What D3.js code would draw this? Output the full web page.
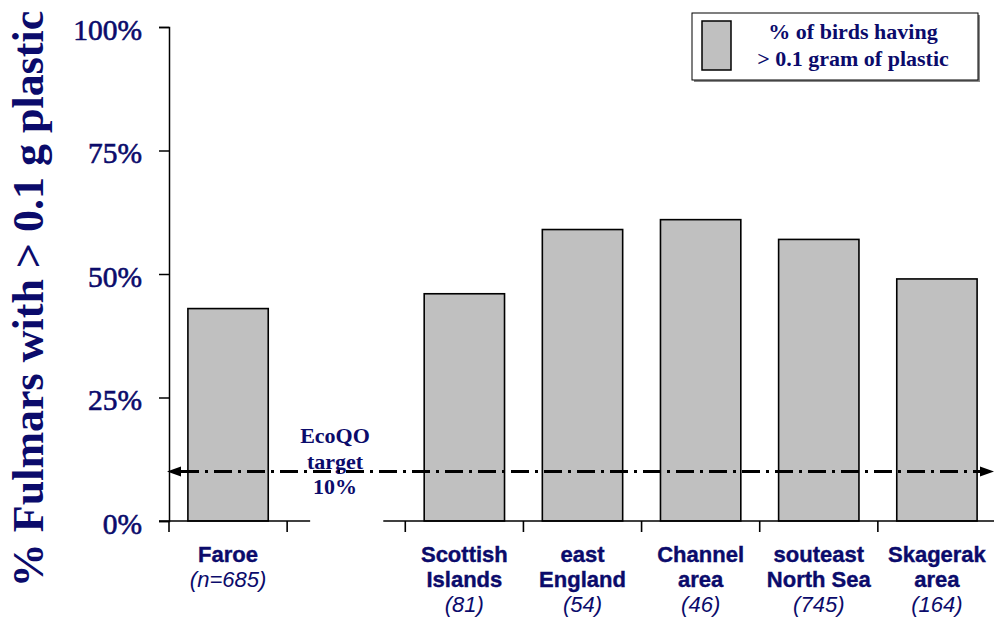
<!DOCTYPE html>
<html>
<head>
<meta charset="utf-8">
<script src="https://cdn.jsdelivr.net/npm/d3@7"></script>
<style>
  html, body { margin: 0; padding: 0; background: #fff; }
  svg { display: block; }
</style>
</head>
<body>
<svg id="chart" width="994" height="622"></svg>
<script>
// Regions (an empty slot separates the Faroe from the North Sea regions)
const regions = ["Faroe", "", "Scottish Islands", "east England", "Channel area", "souteast North Sea", "Skagerak area"];
const labelLines = [["Faroe"], [], ["Scottish", "Islands"], ["east", "England"], ["Channel", "area"], ["souteast", "North Sea"], ["Skagerak", "area"]];
const sampleSizes = ["(n=685)", "", "(81)", "(54)", "(46)", "(745)", "(164)"];
// Share of fulmars with more than 0.1 g of plastic
const shares = [0.43, null, 0.46, 0.59, 0.61, 0.57, 0.49];
const yTicks = [0, 0.25, 0.5, 0.75, 1];
const target = 0.10;
const targetLabel = ["EcoQO", "target", "10%"];
const legendLines = ["% of birds having", "> 0.1 gram of plastic"];
const yTitle = "% Fulmars with > 0.1 g plastic";

const navy = "#0b0b6b";
const serif = "'Liberation Serif', 'Times New Roman', serif";
const sans = "'Liberation Sans', Arial, sans-serif";
const svg = d3.select("#chart");
const W = 994;

const x = d3.scaleBand().domain(regions).range([169, 996]).padding(0);
const y = d3.scaleLinear().domain([0, 1]).range([521, 27]);
const step = x.step();
const x0 = x.range()[0];

// Bars
const barW = x.bandwidth() * 0.68;
svg.append("g").selectAll("rect")
  .data(regions.map((r, i) => ({ r, v: shares[i] })).filter(d => d.v != null))
  .join("rect")
  .attr("x", d => x(d.r) + (x.bandwidth() - barW) / 2)
  .attr("y", d => y(d.v))
  .attr("width", barW)
  .attr("height", d => y(0) - y(d.v))
  .attr("fill", "#c0c0c0")
  .attr("stroke", "#000")
  .attr("stroke-width", 1.6);

// Y axis
const yAxis = svg.append("g").attr("transform", `translate(${x0},0)`)
  .call(d3.axisLeft(y).tickValues(yTicks).tickFormat(d3.format(".0%")).tickSize(10).tickPadding(17));
yAxis.select(".domain").attr("stroke", "#000").attr("stroke-width", 1.5);
yAxis.selectAll(".tick line").attr("stroke", "#000").attr("stroke-width", 1.5);
yAxis.selectAll(".tick text")
  .attr("fill", navy)
  .attr("stroke", navy)
  .attr("stroke-width", 0.6)
  .attr("font-family", serif)
  .attr("font-size", 29.5)
  .attr("font-weight", "normal")
  .attr("dy", "0.42em");

// Baseline, broken across the empty slot, with downward ticks at slot boundaries
const gapStart = x0 + step * 1;
const gapEnd = x0 + step * 2;
const base = svg.append("g").attr("stroke", "#000").attr("stroke-width", 1.6);
base.append("line").attr("x1", x0 - 10).attr("x2", gapStart + 23).attr("y1", y(0)).attr("y2", y(0));
base.append("line").attr("x1", gapEnd - 22).attr("x2", W).attr("y1", y(0)).attr("y2", y(0));
d3.range(0, regions.length + 1).forEach(i => {
  const tx = x0 + step * i;
  base.append("line").attr("x1", tx).attr("x2", tx).attr("y1", y(0)).attr("y2", y(0) + 11);
});

// Category labels
const lab = svg.append("g").attr("fill", navy).attr("font-family", sans).attr("font-size", 22).attr("text-anchor", "middle");
regions.forEach((r, i) => {
  if (!r) return;
  const cx = x(r) + x.bandwidth() / 2;
  const lines = labelLines[i];
  lines.forEach((t, j) => {
    lab.append("text").attr("x", cx).attr("y", 562 + j * 25).attr("font-weight", "bold")
      .attr("stroke", navy).attr("stroke-width", 0.4).text(t);
  });
  lab.append("text").attr("x", cx).attr("y", 562 + lines.length * 25).attr("font-style", "italic").text(sampleSizes[i]);
});

// Target line (dash-dot, arrows at both ends)
svg.append("line")
  .attr("x1", x0 + 12).attr("x2", W - 12)
  .attr("y1", y(target)).attr("y2", y(target))
  .attr("stroke", "#000").attr("stroke-width", 3)
  .attr("stroke-dasharray", "18,6,3,6");
svg.append("path").attr("d", `M${x0 - 2},${y(target)} L${x0 + 12},${y(target) - 5} L${x0 + 12},${y(target) + 5} Z`).attr("fill", "#000");
svg.append("path").attr("d", `M${W},${y(target)} L${W - 14},${y(target) - 5} L${W - 14},${y(target) + 5} Z`).attr("fill", "#000");

const tl = svg.append("g").attr("fill", navy).attr("font-family", serif)
  .attr("font-size", 22).attr("font-weight", "bold").attr("text-anchor", "middle");
targetLabel.forEach((t, j) => tl.append("text").attr("x", 335).attr("y", 443 + j * 25.5).text(t));

// Y-axis title
svg.append("text")
  .attr("transform", "translate(43,299) rotate(-90)")
  .attr("text-anchor", "middle")
  .attr("fill", navy)
  .attr("font-family", serif)
  .attr("font-size", 44)
  .attr("font-weight", "bold")
  .text(yTitle);

// Legend
const lg = svg.append("g");
lg.append("rect").attr("x", 694).attr("y", 15).attr("width", 286).attr("height", 67).attr("fill", "#888");
lg.append("rect").attr("x", 692).attr("y", 13).attr("width", 286).attr("height", 67).attr("fill", "#fff").attr("stroke", "#000").attr("stroke-width", 1);
lg.append("rect").attr("x", 702).attr("y", 21).attr("width", 29).attr("height", 49).attr("fill", "#c0c0c0").attr("stroke", "#000").attr("stroke-width", 1.5);
legendLines.forEach((t, j) => lg.append("text")
  .attr("x", 853).attr("y", 39 + j * 27)
  .attr("text-anchor", "middle").attr("fill", navy)
  .attr("font-family", serif)
  .attr("font-size", 22).attr("font-weight", "bold").text(t));
</script>
</body>
</html>
